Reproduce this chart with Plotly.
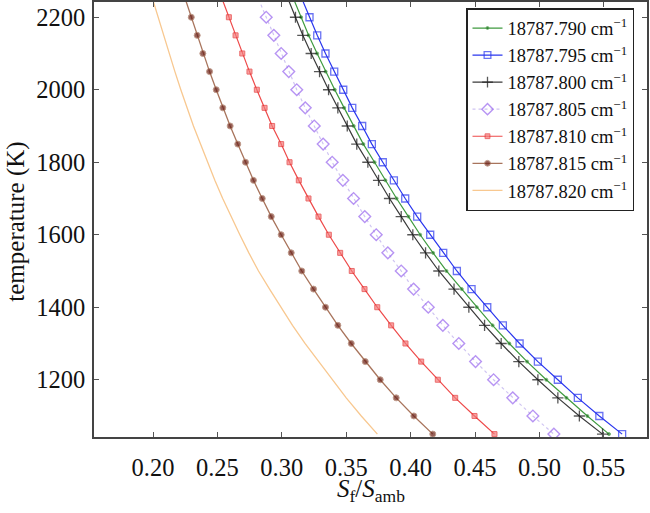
import plotly.graph_objects as go

temperature = [2250, 2200, 2150, 2100, 2050, 2000, 1950, 1900, 1850, 1800, 1750, 1700,
               1650, 1600, 1550, 1500, 1450, 1400, 1350, 1300, 1250, 1200, 1150, 1100, 1050]

s_790 = [0.3092, 0.3150, 0.3208, 0.3274, 0.3340, 0.3411, 0.3484, 0.3558, 0.3633, 0.3720, 0.3804, 0.3891,
         0.3983, 0.4074, 0.4174, 0.4278, 0.4397, 0.4513, 0.4636, 0.4766, 0.4904, 0.5053, 0.5209, 0.5372, 0.5540]
s_795 = [0.3157, 0.3215, 0.3275, 0.3339, 0.3407, 0.3477, 0.3547, 0.3624, 0.3699, 0.3784, 0.3870, 0.3958,
         0.4051, 0.4152, 0.4253, 0.4359, 0.4473, 0.4595, 0.4716, 0.4846, 0.4988, 0.5143, 0.5298, 0.5465, 0.5642]
s_800 = [0.3049, 0.3106, 0.3163, 0.3228, 0.3293, 0.3363, 0.3435, 0.3508, 0.3582, 0.3668, 0.3751, 0.3836,
         0.3927, 0.4017, 0.4116, 0.4219, 0.4337, 0.4452, 0.4574, 0.4703, 0.4840, 0.4988, 0.5143, 0.5310, 0.5490]
s_805 = [0.2820, 0.2879, 0.2938, 0.2995, 0.3054, 0.3116, 0.3182, 0.3252, 0.3321, 0.3391, 0.3474, 0.3557,
         0.3644, 0.3733, 0.3823, 0.3927, 0.4023, 0.4137, 0.4250, 0.4374, 0.4504, 0.4644, 0.4793, 0.4949, 0.5112]
s_810 = [0.2537, 0.2589, 0.2641, 0.2693, 0.2749, 0.2806, 0.2866, 0.2925, 0.2995, 0.3060, 0.3132, 0.3207,
         0.3285, 0.3365, 0.3453, 0.3543, 0.3642, 0.3741, 0.3849, 0.3960, 0.4082, 0.4211, 0.4346, 0.4496, 0.4651]
s_815 = [0.2251, 0.2297, 0.2343, 0.2387, 0.2439, 0.2491, 0.2542, 0.2599, 0.2658, 0.2718, 0.2780, 0.2848,
         0.2918, 0.2995, 0.3073, 0.3155, 0.3246, 0.3339, 0.3435, 0.3539, 0.3648, 0.3764, 0.3888, 0.4025, 0.4172]
s_820 = [0.1997, 0.2040, 0.2083, 0.2122, 0.2170, 0.2216, 0.2264, 0.2314, 0.2369, 0.2422, 0.2480, 0.2541,
         0.2605, 0.2674, 0.2744, 0.2819, 0.2905, 0.2992, 0.3083, 0.3180, 0.3285, 0.3390, 0.3500, 0.3617, 0.3742]

labels = ["18787.790", "18787.795", "18787.800", "18787.805", "18787.810", "18787.815", "18787.820"]

FONT = "Liberation Serif"


def sizes(s):
    # first point (beyond the top of the axes) carries no marker
    return [0] + [s] * (len(temperature) - 1)


styles = [
    dict(data=s_790, line=dict(color="#3f9a3f", width=1.2),
         marker=dict(symbol="circle", size=sizes(3), color="#1f6a1f")),
    dict(data=s_795, line=dict(color="#2a36ee", width=1.2),
         marker=dict(symbol="square-open", size=sizes(7), color="#2a36ee", line=dict(width=1.3))),
    dict(data=s_800, line=dict(color="#3a3a3a", width=1.2),
         marker=dict(symbol="cross-thin-open", size=sizes(8), color="#111111", line=dict(width=1.3))),
    dict(data=s_805, line=dict(color="#cfc4f2", width=1.2, dash="dot"),
         marker=dict(symbol="diamond-open", size=sizes(9), color="#9966ee", line=dict(width=1.4))),
    dict(data=s_810, line=dict(color="#ee4a4a", width=1.2),
         marker=dict(symbol="square", size=sizes(5), color="#f47a7a", line=dict(width=1, color="#e43030"))),
    dict(data=s_815, line=dict(color="#a8745c", width=1.3),
         marker=dict(symbol="circle", size=sizes(6), color="#6a1e14")),
    dict(data=s_820, line=dict(color="#f8c890", width=1.3), marker=None),
]

fig = go.Figure()
for lab, st in zip(labels, styles):
    kw = dict(x=st["data"], y=temperature, name=f"{lab} cm<sup>−1</sup>", line=st["line"])
    if st["marker"] is None:
        kw["mode"] = "lines"
    else:
        kw["mode"] = "lines+markers"
        kw["marker"] = st["marker"]
    fig.add_trace(go.Scatter(**kw))

L, R, T, B = 94, 3, 2, 76
W, H = 650, 513
pw, ph = W - L - R, H - T - B

axis_common = dict(
    showline=True, linecolor="#444444", linewidth=1.5, mirror="ticks",
    ticks="inside", ticklen=5, tickwidth=1, tickcolor="#555555",
    showgrid=False, zeroline=False, automargin=False,
    tickfont=dict(family=FONT, size=24.5, color="#111111"),
)

fig.update_xaxes(range=[0.1542, 0.5835], tickvals=[0.20, 0.25, 0.30, 0.35, 0.40, 0.45, 0.50, 0.55],
                 ticktext=["0.20", "0.25", "0.30", "0.35", "0.40", "0.45", "0.50", "0.55"],
                 ticklabelstandoff=8, **axis_common)
fig.update_yaxes(range=[1042, 2242], tickvals=[1200, 1400, 1600, 1800, 2000, 2200],
                 ticklabelstandoff=2, **axis_common)

fig.add_annotation(xref="paper", yref="paper", x=(16 - L) / pw, y=(H - B - 221.7) / ph,
                   text="temperature (K)", textangle=-90, showarrow=False,
                   font=dict(family=FONT, size=25, color="#111111"),
                   xanchor="center", yanchor="middle")
fig.add_annotation(xref="paper", yref="paper", x=(371 - L) / pw, y=(H - B - 490) / ph,
                   text="<i>S</i><sub>f</sub>/<i>S</i><sub>amb</sub>", showarrow=False,
                   font=dict(family=FONT, size=25, color="#111111"),
                   xanchor="center", yanchor="middle")

fig.update_layout(
    width=W, height=H,
    margin=dict(l=L, r=R, t=T, b=B, pad=0, autoexpand=False),
    paper_bgcolor="white", plot_bgcolor="white",
    showlegend=True,
    legend=dict(x=(466 - L) / pw, y=(H - B - 8) / ph, xanchor="left", yanchor="top",
                bgcolor="white", bordercolor="#222222", borderwidth=1.5,
                font=dict(family=FONT, size=18.5, color="#111111"),
                tracegroupgap=0, itemwidth=30),
)

fig.write_html("out.html", config={"displayModeBar": False},
               post_script="document.body.style.margin='0';document.body.style.padding='0';")
